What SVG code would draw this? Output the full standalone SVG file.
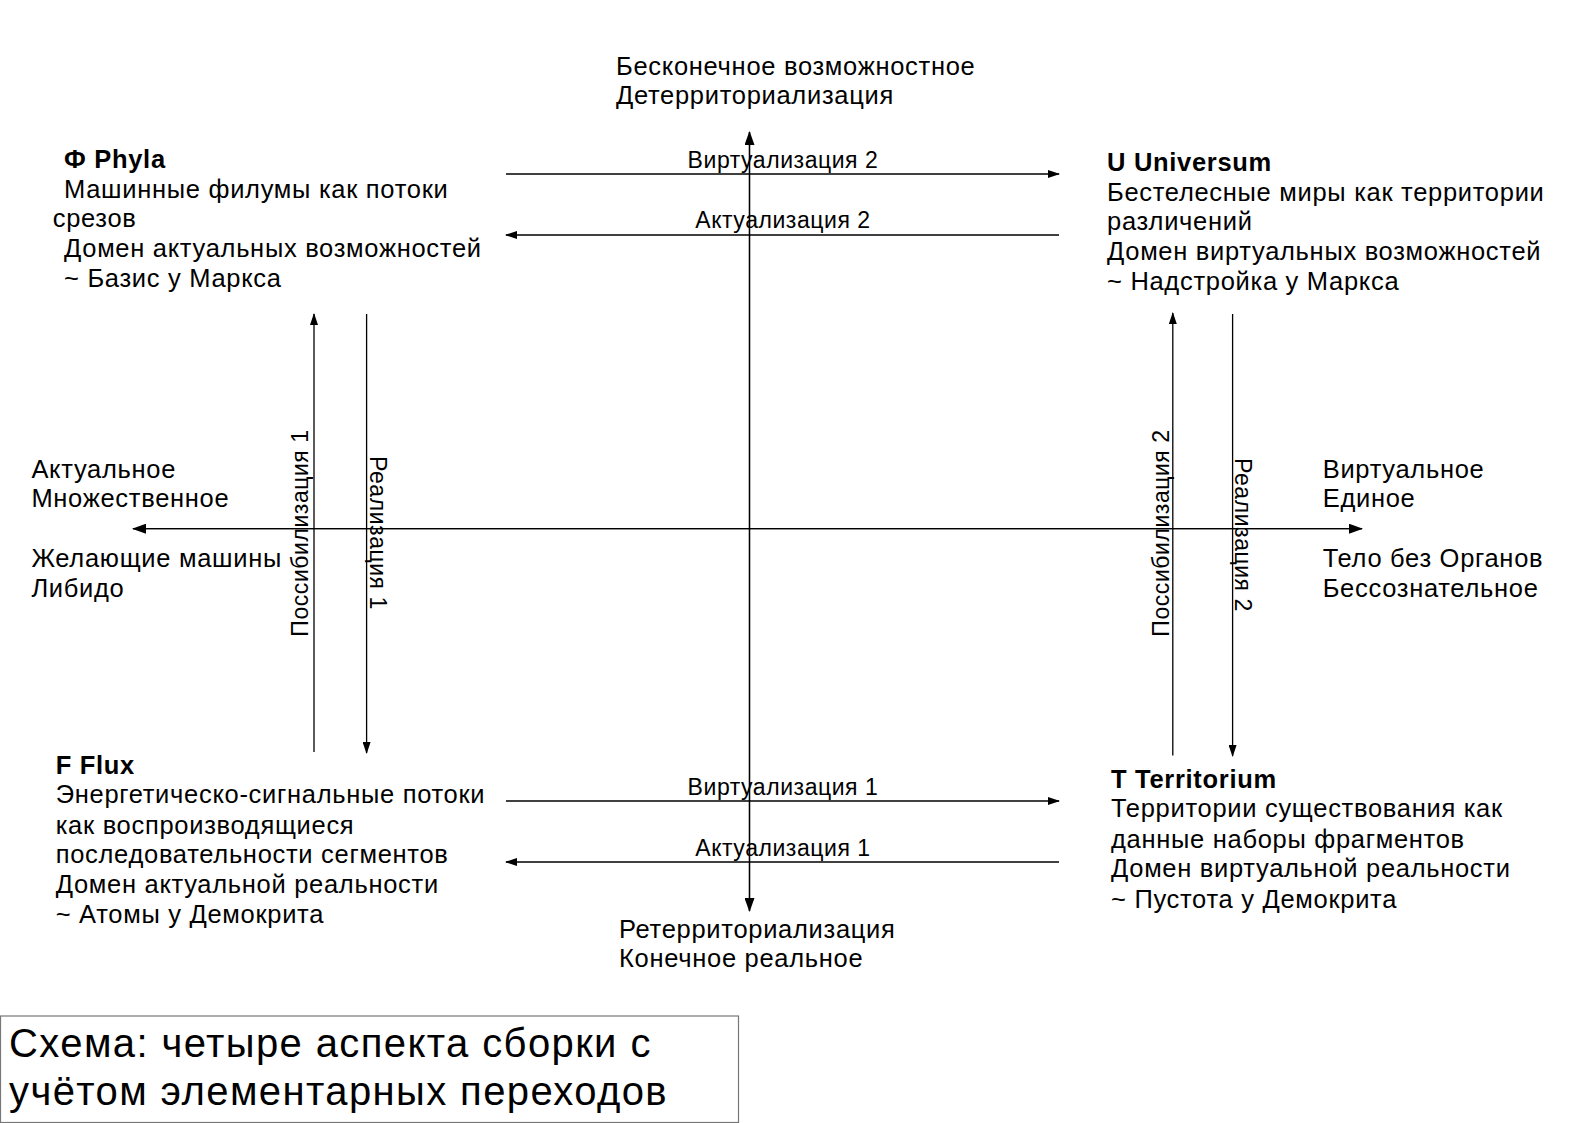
<svg xmlns="http://www.w3.org/2000/svg" width="1588" height="1123" viewBox="0 0 1588 1123">
<style>
.t{font-family:"Liberation Sans",Arial,sans-serif;font-size:25.5px;letter-spacing:0.7px;fill:#000}
.b{font-weight:bold}
.s{font-family:"Liberation Sans",Arial,sans-serif;font-size:23px;letter-spacing:0.55px;fill:#000}
.c{font-family:"Liberation Sans",Arial,sans-serif;font-size:40px;letter-spacing:1.4px;fill:#000}
.ln{stroke:#000;stroke-width:1.3;fill:none}
</style>
<defs>
<marker id="ah" markerWidth="14" markerHeight="10" refX="13" refY="5" orient="auto" markerUnits="userSpaceOnUse">
<path d="M0,0 L14,5 L0,10 Z" fill="#000"/>
</marker>
<marker id="as" markerWidth="12" markerHeight="8" refX="11" refY="4" orient="auto" markerUnits="userSpaceOnUse">
<path d="M0,0 L12,4 L0,8 Z" fill="#000"/>
</marker>
</defs>
<rect width="1588" height="1123" fill="#fff"/>
<g id="connectors">
<line class="ln" x1="749.5" y1="911" x2="749.5" y2="132" marker-end="url(#ah)"/>
<line class="ln" x1="749.5" y1="132" x2="749.5" y2="911" marker-end="url(#ah)"/>
<line class="ln" x1="1362" y1="528.7" x2="133" y2="528.7" marker-end="url(#ah)"/>
<line class="ln" x1="133" y1="528.7" x2="1362" y2="528.7" marker-end="url(#ah)"/>
<line class="ln" x1="506" y1="174" x2="1059" y2="174" marker-end="url(#as)"/>
<line class="ln" x1="1059" y1="235" x2="506" y2="235" marker-end="url(#as)"/>
<line class="ln" x1="506" y1="801" x2="1059" y2="801" marker-end="url(#as)"/>
<line class="ln" x1="1059" y1="862" x2="506" y2="862" marker-end="url(#as)"/>
<line class="ln" x1="314" y1="752" x2="314" y2="314" marker-end="url(#as)"/>
<line class="ln" x1="366.6" y1="314" x2="366.6" y2="753" marker-end="url(#as)"/>
<line class="ln" x1="1172.8" y1="755.5" x2="1172.8" y2="313" marker-end="url(#as)"/>
<line class="ln" x1="1232.6" y1="314" x2="1232.6" y2="756" marker-end="url(#as)"/>
<text class="s" x="783" y="168" text-anchor="middle">Виртуализация 2</text>
<text class="s" x="783" y="228" text-anchor="middle">Актуализация 2</text>
<text class="s" x="783" y="795" text-anchor="middle">Виртуализация 1</text>
<text class="s" x="783" y="856" text-anchor="middle">Актуализация 1</text>
<text class="s" transform="translate(308,533) rotate(-90)" text-anchor="middle">Поссибилизация 1</text>
<text class="s" transform="translate(370,533) rotate(90)" text-anchor="middle">Реализация 1</text>
<text class="s" transform="translate(1169,533) rotate(-90)" text-anchor="middle">Поссибилизация 2</text>
<text class="s" transform="translate(1235,535) rotate(90)" text-anchor="middle">Реализация 2</text>
</g>
<g id="top-pole">
<text class="t" x="616" y="75">Бесконечное возможностное</text>
<text class="t" x="616" y="104.3">Детерриториализация</text>
</g>
<g id="bottom-pole">
<text class="t" x="619" y="938">Ретерриториализация</text>
<text class="t" x="619" y="967">Конечное реальное</text>
</g>
<g id="left-pole">
<text class="t" x="31.4" y="478">Актуальное</text>
<text class="t" x="31.4" y="507.4">Множественное</text>
<text class="t" x="31.4" y="567">Желающие машины</text>
<text class="t" x="31.4" y="596.5">Либидо</text>
</g>
<g id="right-pole">
<text class="t" x="1322.7" y="478">Виртуальное</text>
<text class="t" x="1322.7" y="507.4">Единое</text>
<text class="t" x="1322.7" y="567">Тело без Органов</text>
<text class="t" x="1322.7" y="596.5">Бессознательное</text>
</g>
<g id="phyla">
<text class="t b" x="64" y="168">Ф Phyla</text>
<text class="t" x="64" y="197.5">Машинные филумы как потоки</text>
<text class="t" x="52.7" y="227">срезов</text>
<text class="t" x="64" y="257">Домен актуальных возможностей</text>
<text class="t" x="64" y="286.6">~ Базис у Маркса</text>
</g>
<g id="universum">
<text class="t b" x="1107" y="171">U Universum</text>
<text class="t" x="1107" y="200.5">Бестелесные миры как территории</text>
<text class="t" x="1107" y="230">различений</text>
<text class="t" x="1107" y="260">Домен виртуальных возможностей</text>
<text class="t" x="1107" y="289.7">~ Надстройка у Маркса</text>
</g>
<g id="flux">
<text class="t b" x="55.7" y="773.8">F Flux</text>
<text class="t" x="55.7" y="803">Энергетическо-сигнальные потоки</text>
<text class="t" x="55.7" y="833.5">как воспроизводящиеся</text>
<text class="t" x="55.7" y="863">последовательности сегментов</text>
<text class="t" x="55.7" y="893">Домен актуальной реальности</text>
<text class="t" x="55.7" y="922.7">~ Атомы у Демокрита</text>
</g>
<g id="territorium">
<text class="t b" x="1111" y="788">T Territorium</text>
<text class="t" x="1111" y="817">Территории существования как</text>
<text class="t" x="1111" y="847.7">данные наборы фрагментов</text>
<text class="t" x="1111" y="877">Домен виртуальной реальности</text>
<text class="t" x="1111" y="907.5">~ Пустота у Демокрита</text>
</g>
<g id="caption">
<rect x="0.5" y="1016" width="738" height="106.5" fill="#fff" stroke="#777" stroke-width="1.2"/>
<text class="c" x="9" y="1057">Схема: четыре аспекта сборки с</text>
<text class="c" x="9" y="1105">учётом элементарных переходов</text>
</g>
</svg>
